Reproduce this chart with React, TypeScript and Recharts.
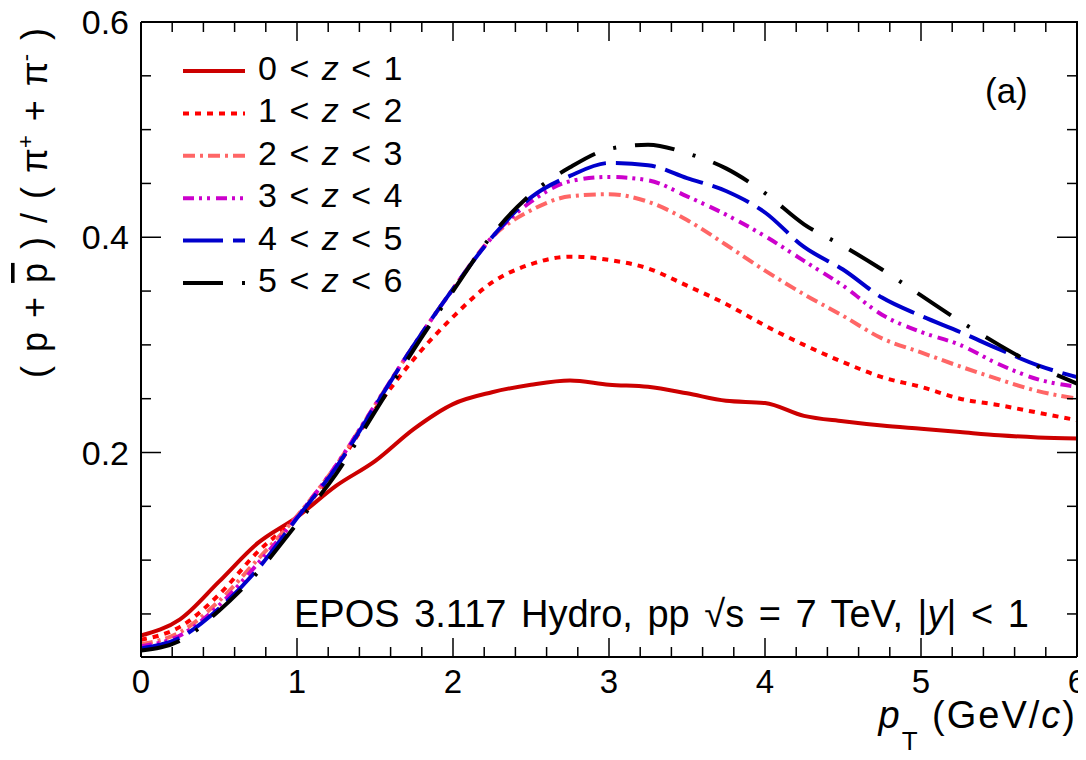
import React from "react"
import { LineChart, Line, XAxis, YAxis } from "recharts"

// pT grid (GeV/c) and ratio values
const pT = [0, 0.25, 0.5, 0.75, 1, 1.25, 1.5, 1.75, 2, 2.25, 2.5, 2.75, 3, 3.25, 3.5, 3.75, 4, 4.25, 4.5, 4.75, 5, 5.25, 5.5, 5.75, 6]

const z0to1 = [0.030, 0.045, 0.080, 0.116, 0.140, 0.169, 0.192, 0.222, 0.245, 0.256, 0.263, 0.267, 0.263, 0.261, 0.255, 0.248, 0.246, 0.234, 0.229, 0.225, 0.222, 0.219, 0.216, 0.214, 0.213]
const z1to2 = [0.026, 0.038, 0.068, 0.108, 0.140, 0.186, 0.240, 0.287, 0.326, 0.358, 0.375, 0.382, 0.379, 0.371, 0.355, 0.338, 0.318, 0.300, 0.284, 0.270, 0.261, 0.250, 0.244, 0.237, 0.230]
const z2to3 = [0.022, 0.033, 0.062, 0.101, 0.141, 0.188, 0.244, 0.300, 0.352, 0.400, 0.425, 0.438, 0.440, 0.433, 0.416, 0.393, 0.369, 0.347, 0.327, 0.306, 0.293, 0.280, 0.268, 0.257, 0.250]
const z3to4 = [0.020, 0.030, 0.058, 0.097, 0.140, 0.188, 0.244, 0.300, 0.352, 0.400, 0.433, 0.452, 0.456, 0.453, 0.438, 0.421, 0.401, 0.378, 0.355, 0.328, 0.312, 0.300, 0.282, 0.268, 0.261]
const z4to5 = [0.018, 0.028, 0.055, 0.092, 0.139, 0.186, 0.243, 0.300, 0.352, 0.400, 0.437, 0.457, 0.469, 0.467, 0.455, 0.443, 0.423, 0.391, 0.370, 0.344, 0.327, 0.312, 0.296, 0.281, 0.270]
const z5to6 = [0.016, 0.025, 0.053, 0.089, 0.134, 0.180, 0.238, 0.296, 0.350, 0.402, 0.440, 0.465, 0.482, 0.486, 0.478, 0.464, 0.441, 0.412, 0.392, 0.370, 0.346, 0.322, 0.300, 0.280, 0.264]

const xLabels = [0, 1, 2, 3, 4, 5, 6]
const yLabels = [0.2, 0.4, 0.6]
const xTicks = Array.from({ length: 31 }, (_, i) => i / 5)
const yTicks = Array.from({ length: 12 }, (_, i) => (i + 1) * 0.05)

const X_DOMAIN = [0, 6]
const Y_DOMAIN = [0.01, 0.6]

const series = [
  { key: "z0", lo: 0, hi: 1, values: z0to1, color: "#cc0000", dash: undefined },
  { key: "z1", lo: 1, hi: 2, values: z1to2, color: "#ff0000", dash: "6 6" },
  { key: "z2", lo: 2, hi: 3, values: z2to3, color: "#ff6666", dash: "12 5 3 5" },
  { key: "z3", lo: 3, hi: 4, values: z3to4, color: "#cc00cc", dash: "11 5 3 5 3 6" },
  { key: "z4", lo: 4, hi: 5, values: z4to5, color: "#0000cc", dash: "40 10" },
  { key: "z5", lo: 5, hi: 6, values: z5to6, color: "#000000", dash: "40 19 3 19" },
]

const data = pT.map((x, i) => {
  const row: Record<string, number> = { pt: x }
  series.forEach((s) => (row[s.key] = s.values[i]))
  return row
})

const FONT = "'Liberation Sans', Arial, sans-serif"
const W = 1086
const H = 760
const MARGIN = { top: 22, right: 9, bottom: 43, left: 61 }
const X_AXIS_H = 60
const Y_AXIS_W = 80
// plotting area, used for the top/right frame
const PLOT_L = MARGIN.left + Y_AXIS_W
const PLOT_T = MARGIN.top
const PLOT_W = W - MARGIN.left - MARGIN.right - Y_AXIS_W
const PLOT_H = H - MARGIN.top - MARGIN.bottom - X_AXIS_H
const sx = (v: number) => PLOT_L + ((v - X_DOMAIN[0]) / (X_DOMAIN[1] - X_DOMAIN[0])) * PLOT_W
const sy = (v: number) => PLOT_T + ((Y_DOMAIN[1] - v) / (Y_DOMAIN[1] - Y_DOMAIN[0])) * PLOT_H

const near = (v: number, list: number[]) => list.some((l) => Math.abs(l - v) < 1e-6)

const BottomTick = (props: any) => {
  const { x, y, payload } = props
  const major = near(payload.value, xLabels)
  return (
    <g>
      <line x1={x} x2={x} y1={y} y2={y - (major ? 19 : 10)} stroke="#000" strokeWidth={1.5} />
      {major && (
        <text x={x} y={y + 36} textAnchor="middle" fontSize={33} fontFamily={FONT} fill="#000">
          {Math.round(payload.value)}
        </text>
      )}
    </g>
  )
}

const LeftTick = (props: any) => {
  const { x, y, payload } = props
  const major = near(payload.value, yLabels)
  return (
    <g>
      <line x1={x} x2={x + (major ? 20 : 10)} y1={y} y2={y} stroke="#000" strokeWidth={1.5} />
      {major && (
        <text x={x - 12} y={y + 12} textAnchor="end" fontSize={34} fontFamily={FONT} fill="#000">
          {payload.value.toFixed(1)}
        </text>
      )}
    </g>
  )
}

export default function App() {
  const axisLine = { stroke: "#000", strokeWidth: 2 }
  return (
    <div style={{ position: "relative", width: W, height: H, margin: -8, background: "#fff" }}>
      <LineChart width={W} height={H} data={data} margin={MARGIN}>
        <XAxis
          dataKey="pt"
          type="number"
          domain={X_DOMAIN}
          ticks={xTicks}
          interval={0}
          height={X_AXIS_H}
          tickSize={0}
          tickMargin={0}
          tickLine={false}
          axisLine={axisLine}
          tick={<BottomTick />}
        />
        <YAxis
          type="number"
          domain={Y_DOMAIN}
          allowDataOverflow
          ticks={yTicks}
          interval={0}
          width={Y_AXIS_W}
          tickSize={0}
          tickMargin={0}
          tickLine={false}
          axisLine={axisLine}
          tick={<LeftTick />}
        />
        {series.map((s) => (
          <Line
            key={s.key}
            dataKey={s.key}
            type="monotone"
            stroke={s.color}
            strokeWidth={4}
            strokeDasharray={s.dash}
            dot={false}
            activeDot={false}
            isAnimationActive={false}
          />
        ))}
      </LineChart>
      <svg
        width={W}
        height={H}
        style={{ position: "absolute", left: 0, top: 0, pointerEvents: "none" }}
        fontFamily={FONT}
      >
        {/* top and right side of the frame with inward ticks */}
        <path
          d={`M${PLOT_L},${PLOT_T} H${PLOT_L + PLOT_W} V${PLOT_T + PLOT_H}`}
          fill="none"
          stroke="#000"
          strokeWidth={2}
        />
        {xTicks.map((v) => (
          <line key={"t" + v} x1={sx(v)} x2={sx(v)} y1={PLOT_T} y2={PLOT_T + (near(v, xLabels) ? 19 : 10)} stroke="#000" strokeWidth={1.5} />
        ))}
        {yTicks.map((v) => (
          <line
            key={"r" + v}
            x1={PLOT_L + PLOT_W}
            x2={PLOT_L + PLOT_W - (near(v, yLabels) ? 20 : 10)}
            y1={sy(v)}
            y2={sy(v)}
            stroke="#000"
            strokeWidth={1.5}
          />
        ))}
        {series.map((s, i) => {
          const cy = 71 + i * 42.4
          return (
            <g key={s.key}>
              <line x1={183} x2={245} y1={cy} y2={cy} stroke={s.color} strokeWidth={4} strokeDasharray={s.dash} />
              <text x={258} y={cy + 9} fontSize={34} wordSpacing={3} fill="#000">
                <tspan>{s.lo} {"<"} </tspan>
                <tspan fontStyle="italic">z</tspan>
                <tspan> {"<"} {s.hi}</tspan>
              </text>
            </g>
          )
        })}
        <text x={985} y={103} fontSize={35} fill="#000">(a)</text>
        <text x={294} y={627} fontSize={38} wordSpacing={4} fill="#000">
          EPOS 3.117 Hydro, pp  √s = 7 TeV, |<tspan fontStyle="italic">y</tspan>| {"<"} 1
        </text>
        <text x={1077} y={728} textAnchor="end" fontSize={38} letterSpacing={2} fill="#000">
          <tspan fontStyle="italic">p</tspan>
          <tspan dy={22} fontSize={26}>T</tspan>
          <tspan dy={-22}> (GeV/</tspan>
          <tspan fontStyle="italic">c</tspan>
          <tspan>)</tspan>
        </text>
        <text transform="translate(47,203) rotate(-90)" textAnchor="middle" fontSize={36} wordSpacing={4} fill="#000">
          ( p + <tspan style={{ textDecoration: "overline" }}>p</tspan> ) / ( π
          <tspan dy={-14} fontSize={22}>+</tspan>
          <tspan dy={14}> + π</tspan>
          <tspan dy={-14} fontSize={22}>-</tspan>
          <tspan dy={14}> )</tspan>
        </text>
      </svg>
    </div>
  )
}
